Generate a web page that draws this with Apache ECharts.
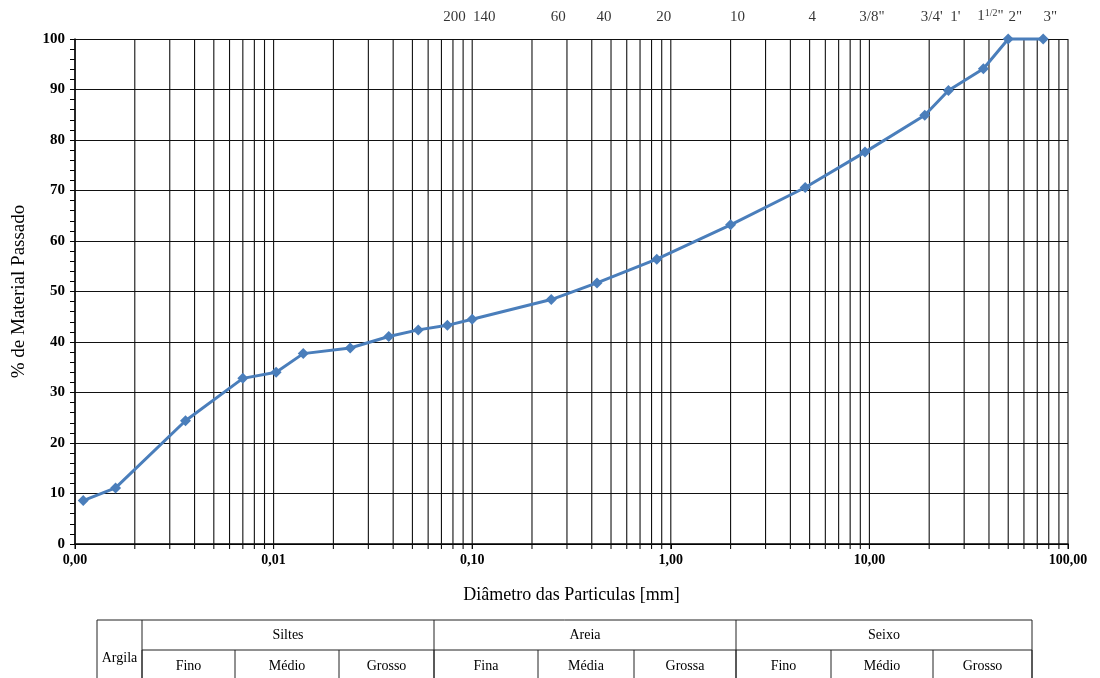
<!DOCTYPE html>
<html>
<head>
<meta charset="utf-8">
<script src="https://cdn.jsdelivr.net/npm/echarts@6/dist/echarts.min.js"></script>
<style>
html,body{margin:0;padding:0;background:#fff;}
#chart{width:1100px;height:678px;}
</style>
</head>
<body>
<div id="chart"></div>
<script>
// ---- data ----
var sizes   = [0.0011, 0.0016, 0.0036, 0.0070, 0.0103, 0.0141, 0.0243, 0.038, 0.0535, 0.075, 0.10, 0.25, 0.425, 0.85, 2.0, 4.75, 9.5, 19, 25, 37.5, 50, 75];
var passing = [8.6, 11.1, 24.4, 32.8, 34.0, 37.7, 38.8, 41.1, 42.4, 43.3, 44.5, 48.4, 51.7, 56.4, 63.2, 70.6, 77.6, 84.9, 89.8, 94.1, 100, 100];
var sieveSizes  = [0.075, 0.106, 0.25, 0.425, 0.85, 2.0, 4.75, 9.5, 19, 25, 37.5, 50, 75];
var sieveLabels = ['200', '140', '60', '40', '20', '10', '4', '3/8"', "3/4'", "1'", '1{s|1/2}"', '2"', '3"'];
var yTicks = [0, 10, 20, 30, 40, 50, 60, 70, 80, 90, 100];
var decades = [0.001, 0.01, 0.1, 1, 10];
var multipliers = [1, 2, 3, 4, 5, 6, 7, 8, 9];
var tableGroups = ['Siltes', 'Areia', 'Seixo'];
var tableSubs = ['Fino', 'Médio', 'Grosso', 'Fina', 'Média', 'Grossa', 'Fino', 'Médio', 'Grosso'];
var tableFirst = 'Argila';

// vertical grid positions (axis structure)
var gridX = [];
decades.forEach(function (d) { multipliers.forEach(function (m) { gridX.push([+(d * m).toPrecision(3), 0]); }); });
gridX.push([100, 0]);

var FONT = '"Liberation Serif", "Times New Roman", serif';
var chart = echarts.init(document.getElementById('chart'));

// table layout
var tL = 97, tR = 1032, tTop = 620, tMid = 650, tBot = 700;
var groupEdges = [142, 434, 736, 1032];
var subEdges = [142, 235, 339, 434, 538, 634, 736, 831, 933, 1032];
var graphics = [];
function hline(x1, x2, y) { graphics.push({type: 'line', shape: {x1: x1, y1: y, x2: x2, y2: y}, style: {stroke: '#222', lineWidth: 1}, silent: true}); }
function vline(x, y1, y2) { graphics.push({type: 'line', shape: {x1: x, y1: y1, x2: x, y2: y2}, style: {stroke: '#222', lineWidth: 1}, silent: true}); }
function txt(s, x, y) { graphics.push({type: 'text', x: x, y: y, style: {text: s, font: '14px ' + FONT, fill: '#000', align: 'center', verticalAlign: 'middle'}, silent: true}); }
hline(tL, tR, tTop);
hline(groupEdges[0], tR, tMid);
vline(tL, tTop, tBot);
groupEdges.forEach(function (x) { vline(x, tTop, tBot); });
subEdges.forEach(function (x) { vline(x, tMid, tBot); });
txt(tableFirst, (tL + groupEdges[0]) / 2, 658);
tableGroups.forEach(function (g, i) { txt(g, (groupEdges[i] + groupEdges[i + 1]) / 2, 635); });
tableSubs.forEach(function (g, i) { txt(g, (subEdges[i] + subEdges[i + 1]) / 2, 666); });

var option = {
  animation: false,
  backgroundColor: '#fff',
  textStyle: {fontFamily: FONT},
  grid: {left: 75, right: 32, top: 39, bottom: 134, containLabel: false, outerBoundsMode: 'none'},
  xAxis: {
    type: 'log', logBase: 10, min: 0.001, max: 100,
    name: 'Diâmetro das Particulas [mm]', nameLocation: 'middle', nameGap: 42,
    nameTextStyle: {fontFamily: FONT, fontSize: 18, color: '#000'},
    axisLine: {show: true, onZero: false, lineStyle: {color: '#000', width: 1.5}},
    axisTick: {show: true, length: 5, lineStyle: {color: '#000'}},
    axisLabel: {fontFamily: FONT, fontWeight: 'bold', fontSize: 14, color: '#000', margin: 9,
      formatter: function (v) { return (+v).toFixed(2).replace('.', ','); }},
    splitLine: {show: false}
  },
  yAxis: {
    type: 'value', min: 0, max: 100, interval: 10,
    name: '% de Material Passado', nameLocation: 'middle', nameGap: 46,
    nameTextStyle: {fontFamily: FONT, fontSize: 19, color: '#000'},
    axisLine: {show: true, lineStyle: {color: '#000', width: 1.5}},
    axisTick: {show: true, length: 5, lineStyle: {color: '#000'}},
    minorTick: {show: true, splitNumber: 5, length: 5, lineStyle: {color: '#000'}},
    axisLabel: {fontFamily: FONT, fontWeight: 'bold', fontSize: 15, color: '#000', margin: 10,
      customValues: yTicks},
    splitLine: {show: true, lineStyle: {color: '#111', width: 1.2}}
  },
  graphic: graphics,
  series: [
    {
      type: 'custom', silent: true, z: 1,
      data: gridX,
      renderItem: function (params, api) {
        var v = api.value(0);
        var top = api.coord([v, 100]);
        var bot = api.coord([v, 0]);
        return {type: 'line', shape: {x1: top[0], y1: top[1], x2: bot[0], y2: bot[1] + 5},
          style: {stroke: '#111', lineWidth: 1.1}};
      }
    },
    {
      type: 'scatter', silent: true, z: 3, symbolSize: 0, clip: false,
      data: sieveSizes.map(function (s, i) { return {value: [s, 100], name: sieveLabels[i]}; }),
      label: {show: true, position: 'top', distance: 14, offset: [7, 0],
        formatter: function (p) { return p.name; },
        fontFamily: FONT, fontSize: 15, color: '#000',
        rich: {s: {fontFamily: FONT, fontSize: 10, color: '#000', padding: [0, 0, 7, 0]}}}
    },
    {
      type: 'line', z: 5, clip: false,
      data: sizes.map(function (s, i) { return [s, passing[i]]; }),
      symbol: 'diamond', symbolSize: 11,
      itemStyle: {color: '#4a7ebb'},
      lineStyle: {color: '#4a7ebb', width: 3}
    }
  ]
};
chart.setOption(option);
</script>
</body>
</html>
